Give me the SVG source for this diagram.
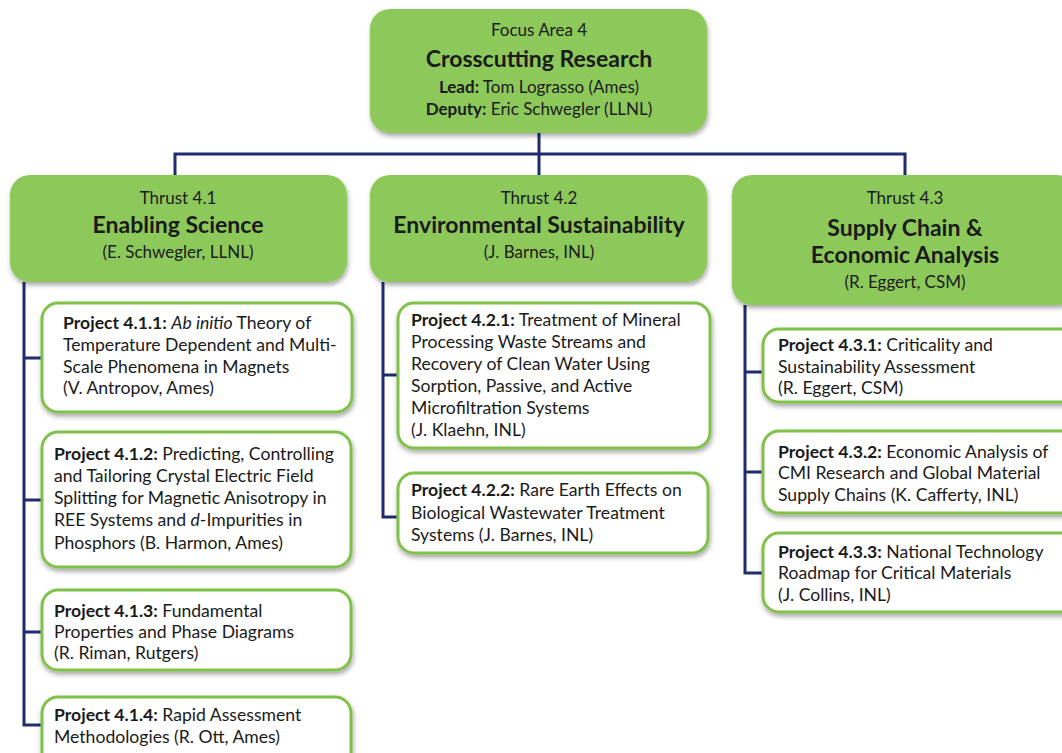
<svg xmlns="http://www.w3.org/2000/svg" width="1062" height="753" viewBox="0 0 1062 753">
<defs>
<filter id="sh" x="-10%" y="-10%" width="120%" height="130%">
<feDropShadow dx="1" dy="3" stdDeviation="2.5" flood-color="#000" flood-opacity="0.35"/>
</filter>
<style>
.g{fill:#8dc85a;filter:url(#sh)}
.p{fill:#fff;stroke:#80c24a;stroke-width:3;filter:url(#sh)}
.c{fill:none;stroke:#1f2d6b;stroke-width:3}
text{font-family:Lato,"Liberation Sans",sans-serif;fill:#1a1a1a}
.h{font-size:17px;text-anchor:middle}
.t{font-size:23px;font-weight:bold;text-anchor:middle}
.s{font-size:17.6px}
.b{font-weight:bold}
.i{font-style:italic}
</style>
</defs>
<rect width="1062" height="753" fill="#fff"/>
<g id="connectors">
<path class="c" d="M539,133 V175 M175,175 V154 H905 V175"/>
<path class="c" d="M24,282 V725 H42 M24,358 H42 M24,500 H42 M24,632 H42"/>
<path class="c" d="M383,282 V517 H398 M383,375 H398"/>
<path class="c" d="M745,305 V573 H763 M745,372 H763 M745,472 H763"/>
</g>
<g id="focus">
<rect class="g" x="370" y="9" width="337" height="124" rx="20"/>
<text class="h" x="539" y="36">Focus Area 4</text>
<text class="t" x="539" y="67" font-size="28">Crosscutting Research</text>
<text class="h" x="539" y="93" font-size="17.5"><tspan class="b">Lead:</tspan> Tom Lograsso (Ames)</text>
<text class="h" x="539" y="115" font-size="17.5"><tspan class="b">Deputy:</tspan> Eric Schwegler (LLNL)</text>
</g>
<g id="thrust41">
<rect class="g" x="10" y="175" width="337" height="107" rx="20"/>
<text class="h" x="178" y="204">Thrust 4.1</text>
<text class="t" x="178" y="233">Enabling Science</text>
<text class="h" x="178" y="258">(E. Schwegler, LLNL)</text>
</g>
<g id="thrust42">
<rect class="g" x="370" y="175" width="337" height="107" rx="20"/>
<text class="h" x="539" y="204">Thrust 4.2</text>
<text class="t" x="539" y="233">Environmental Sustainability</text>
<text class="h" x="539" y="258">(J. Barnes, INL)</text>
</g>
<g id="thrust43">
<rect class="g" x="732" y="175" width="345" height="130" rx="20"/>
<text class="h" x="905" y="204">Thrust 4.3</text>
<text class="t" x="905" y="236">Supply Chain &amp;</text>
<text class="t" x="905" y="263">Economic Analysis</text>
<text class="h" x="905" y="288">(R. Eggert, CSM)</text>
</g>
<g id="p411">
<rect class="p" x="42" y="303" width="310" height="109" rx="16"/>
<text class="s" x="63" y="329"><tspan class="b">Project 4.1.1:</tspan> <tspan class="i">Ab initio</tspan> Theory of</text>
<text class="s" x="63" y="351">Temperature Dependent and Multi-</text>
<text class="s" x="63" y="373">Scale Phenomena in Magnets</text>
<text class="s" x="63" y="394">(V. Antropov, Ames)</text>
</g>
<g id="p412">
<rect class="p" x="42" y="432" width="309" height="135" rx="16"/>
<text class="s" x="54" y="460"><tspan class="b">Project 4.1.2:</tspan>  Predicting, Controlling</text>
<text class="s" x="54" y="482">and Tailoring Crystal Electric Field</text>
<text class="s" x="54" y="504">Splitting for Magnetic Anisotropy  in</text>
<text class="s" x="54" y="526">REE Systems and <tspan class="i">d</tspan>-Impurities in</text>
<text class="s" x="54" y="549">Phosphors (B. Harmon, Ames)</text>
</g>
<g id="p413">
<rect class="p" x="42" y="590" width="309" height="80" rx="16"/>
<text class="s" x="54" y="617"><tspan class="b">Project 4.1.3:</tspan>  Fundamental</text>
<text class="s" x="54" y="638">Properties and Phase Diagrams</text>
<text class="s" x="54" y="659">(R. Riman, Rutgers)</text>
</g>
<g id="p414">
<rect class="p" x="42" y="697" width="309" height="80" rx="16"/>
<text class="s" x="54" y="721"><tspan class="b">Project 4.1.4:</tspan>  Rapid Assessment</text>
<text class="s" x="54" y="743">Methodologies (R. Ott, Ames)</text>
</g>
<g id="p421">
<rect class="p" x="398" y="303" width="312" height="145" rx="16"/>
<text class="s" x="411" y="326"><tspan class="b">Project 4.2.1:</tspan>  Treatment of Mineral</text>
<text class="s" x="411" y="348">Processing Waste Streams and</text>
<text class="s" x="411" y="370">Recovery of Clean Water Using</text>
<text class="s" x="411" y="392">Sorption, Passive, and Active</text>
<text class="s" x="411" y="414">Microfiltration Systems</text>
<text class="s" x="411" y="436">(J. Klaehn, INL)</text>
</g>
<g id="p422">
<rect class="p" x="398" y="473" width="310" height="80" rx="16"/>
<text class="s" x="411" y="496"><tspan class="b">Project 4.2.2:</tspan>  Rare Earth Effects on</text>
<text class="s" x="411" y="519">Biological Wastewater Treatment</text>
<text class="s" x="411" y="541">Systems  (J. Barnes, INL)</text>
</g>
<g id="p431">
<rect class="p" x="763" y="329" width="320" height="73" rx="16"/>
<text class="s" x="778" y="351"><tspan class="b">Project 4.3.1:</tspan>  Criticality and</text>
<text class="s" x="778" y="373">Sustainability Assessment</text>
<text class="s" x="778" y="394">(R. Eggert, CSM)</text>
</g>
<g id="p432">
<rect class="p" x="763" y="431" width="320" height="82" rx="16"/>
<text class="s" x="778" y="458"><tspan class="b">Project 4.3.2:</tspan>  Economic Analysis of</text>
<text class="s" x="778" y="479">CMI Research and Global Material</text>
<text class="s" x="778" y="501">Supply Chains  (K. Cafferty, INL)</text>
</g>
<g id="p433">
<rect class="p" x="763" y="533" width="320" height="79" rx="16"/>
<text class="s" x="778" y="558"><tspan class="b">Project 4.3.3:</tspan>  National Technology</text>
<text class="s" x="778" y="579">Roadmap for Critical Materials</text>
<text class="s" x="778" y="601">(J. Collins, INL)</text>
</g>
</svg>
